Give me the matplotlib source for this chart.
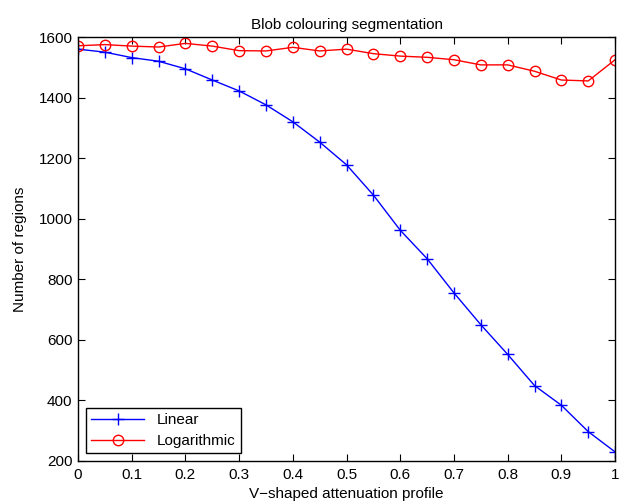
import matplotlib

matplotlib.use("Agg")
import matplotlib.pyplot as plt

attenuation = [0.0, 0.05, 0.1, 0.15, 0.2, 0.25, 0.3, 0.35, 0.4, 0.45, 0.5,
               0.55, 0.6, 0.65, 0.7, 0.75, 0.8, 0.85, 0.9, 0.95, 1.0]
linear_regions = [1560, 1550, 1532, 1520, 1495, 1458, 1422, 1376, 1320, 1253, 1178,
                  1078, 962, 868, 755, 650, 552, 449, 384, 297, 230]
log_regions = [1571, 1575, 1570, 1567, 1579, 1570, 1555, 1554, 1566, 1554, 1560,
               1545, 1537, 1533, 1525, 1508, 1508, 1487, 1458, 1455, 1525]
x_ticks = [0, 0.1, 0.2, 0.3, 0.4, 0.5, 0.6, 0.7, 0.8, 0.9, 1]
x_tick_labels = ["0", "0.1", "0.2", "0.3", "0.4", "0.5", "0.6", "0.7", "0.8", "0.9", "1"]
y_ticks = [200, 400, 600, 800, 1000, 1200, 1400, 1600]

plt.rcParams["font.family"] = ["Liberation Sans", "DejaVu Sans"]
plt.rcParams["font.size"] = 11

fig = plt.figure(figsize=(6.27, 5.03), dpi=100)
ax = fig.add_axes([0.1244, 0.0835, 0.8566, 0.8429])

ax.plot(attenuation, linear_regions, color="blue", marker="+", markersize=8,
        markeredgewidth=1.0, linewidth=1.0, label="Linear")
ax.plot(attenuation, log_regions, color="red", marker="o", markersize=7.5,
        markerfacecolor="none", markeredgewidth=1.0, linewidth=1.0, label="Logarithmic")

ax.set_xlim(0, 1)
ax.set_ylim(200, 1600)
ax.set_xticks(x_ticks)
ax.set_xticklabels(x_tick_labels)
ax.set_yticks(y_ticks)
ax.tick_params(direction="in", top=True, right=True, length=5, width=0.8, pad=4)
ax.tick_params(axis="x", pad=5)
for spine in ax.spines.values():
    spine.set_linewidth(1.0)

ax.set_title("Blob colouring segmentation", fontsize=11, pad=6)
ax.set_xlabel("V\u2212shaped attenuation profile", labelpad=4)
ax.set_ylabel("Number of regions", labelpad=8)

leg = ax.legend(loc="lower left", fancybox=False, framealpha=1, edgecolor="black",
                borderaxespad=0.5, handlelength=3.5, borderpad=0.35, labelspacing=0.45)
leg.get_frame().set_linewidth(1.0)

fig.savefig("out.png", dpi=100)
